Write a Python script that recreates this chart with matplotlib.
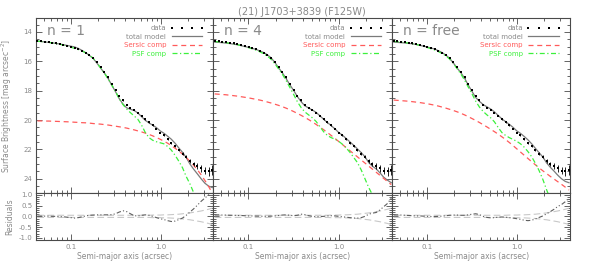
import numpy as np
import matplotlib
matplotlib.use("Agg")
import matplotlib.pyplot as plt
from matplotlib.ticker import FixedLocator, FixedFormatter, MultipleLocator, LogLocator, NullFormatter
from matplotlib.lines import Line2D

# ---------------- data ----------------
title = "(21) J1703+3839 (F125W)"
panel_labels = ["n = 1", "n = 4", "n = free"]

radius = [0.0425, 0.0468, 0.0514, 0.0566, 0.0622, 0.0685, 0.0753, 0.0828, 0.0911, 0.1002,
          0.1103, 0.1213, 0.1334, 0.1468, 0.1614, 0.1776, 0.1953, 0.2149, 0.2364, 0.2600,
          0.2860, 0.3146, 0.3461, 0.3807, 0.4188, 0.4607, 0.5067, 0.5574, 0.6131, 0.6745,
          0.7419, 0.8161, 0.8977, 0.9875, 1.0862, 1.1949, 1.3143, 1.4458, 1.5904, 1.7494,
          1.9244, 2.1168, 2.3285, 2.5613, 2.8175, 3.0992, 3.4091, 3.7500]

data_mu = [14.62, 14.64, 14.67, 14.70, 14.74, 14.78, 14.83, 14.89, 14.96, 15.03,
           15.10, 15.18, 15.28, 15.40, 15.55, 15.75, 16.05, 16.40, 16.72, 17.10,
           17.55, 17.95, 18.35, 18.65, 18.95, 19.15, 19.32, 19.50, 19.72, 19.95,
           20.15, 20.35, 20.58, 20.85, 21.05, 21.30, 21.55, 21.80, 22.05, 22.28,
           22.50, 22.80, 23.00, 23.15, 23.30, 23.45, 23.50, 23.42]

data_err = [0.01, 0.01, 0.01, 0.01, 0.01, 0.01, 0.01, 0.01, 0.01, 0.01,
            0.01, 0.01, 0.01, 0.01, 0.01, 0.01, 0.01, 0.01, 0.01, 0.01,
            0.01, 0.01, 0.02, 0.02, 0.02, 0.02, 0.02, 0.02, 0.02, 0.02,
            0.02, 0.03, 0.03, 0.03, 0.04, 0.05, 0.06, 0.07, 0.08, 0.10,
            0.12, 0.14, 0.16, 0.19, 0.22, 0.26, 0.30, 0.35]

sersic_n1 = [20.06, 20.06, 20.07, 20.07, 20.08, 20.09, 20.10, 20.11, 20.12, 20.13,
             20.15, 20.16, 20.18, 20.19, 20.21, 20.24, 20.26, 20.28, 20.31, 20.34,
             20.38, 20.42, 20.46, 20.50, 20.55, 20.61, 20.67, 20.74, 20.81, 20.89,
             20.98, 21.08, 21.19, 21.31, 21.44, 21.58, 21.74, 21.92, 22.11, 22.32,
             22.55, 22.81, 23.09, 23.39, 23.73, 24.11, 24.52, 24.97]
sersic_n4 = [18.22, 18.24, 18.26, 18.28, 18.31, 18.34, 18.37, 18.41, 18.45, 18.49,
             18.54, 18.59, 18.64, 18.70, 18.77, 18.84, 18.92, 19.00, 19.09, 19.19,
             19.30, 19.42, 19.55, 19.68, 19.82, 19.97, 20.13, 20.30, 20.48, 20.66,
             20.85, 21.05, 21.25, 21.46, 21.67, 21.88, 22.09, 22.30, 22.51, 22.72,
             22.93, 23.14, 23.35, 23.56, 23.77, 23.98, 24.19, 24.40]
sersic_free = [18.64, 18.66, 18.68, 18.70, 18.72, 18.75, 18.78, 18.81, 18.85, 18.89,
               18.94, 18.99, 19.05, 19.12, 19.19, 19.27, 19.35, 19.44, 19.54, 19.65,
               19.77, 19.90, 20.03, 20.17, 20.32, 20.47, 20.63, 20.79, 20.96, 21.14,
               21.33, 21.53, 21.74, 21.96, 22.18, 22.40, 22.62, 22.84, 23.05, 23.26,
               23.46, 23.65, 23.84, 24.02, 24.20, 24.38, 24.57, 24.77]

psf_n1 = [14.63, 14.65, 14.68, 14.71, 14.75, 14.79, 14.84, 14.90, 14.97, 15.04,
          15.12, 15.20, 15.30, 15.43, 15.58, 15.80, 16.10, 16.45, 16.80, 17.20,
          17.62, 18.05, 18.55, 18.95, 19.25, 19.50, 19.72, 19.95, 20.35, 20.85,
          21.20, 21.38, 21.48, 21.55, 21.62, 21.80, 22.05, 22.40, 22.80, 23.25,
          23.85, 24.35, 24.95, 25.50, 26.10, 26.70, 27.30, 27.90]
psf_n4 = [14.65, 14.67, 14.70, 14.73, 14.77, 14.81, 14.86, 14.92, 14.99, 15.07,
          15.15, 15.24, 15.35, 15.48, 15.64, 15.86, 16.16, 16.52, 16.88, 17.30,
          17.78, 18.25, 18.75, 19.15, 19.45, 19.65, 19.85, 20.10, 20.45, 20.80,
          21.05, 21.20, 21.30, 21.45, 21.65, 21.90, 22.20, 22.55, 22.90, 23.40,
          24.00, 24.60, 25.10, 25.60, 26.10, 26.60, 27.10, 27.60]
psf_free = [14.64, 14.66, 14.69, 14.72, 14.76, 14.80, 14.85, 14.91, 14.98, 15.06,
            15.14, 15.23, 15.34, 15.47, 15.63, 15.85, 16.15, 16.50, 16.86, 17.28,
            17.76, 18.22, 18.72, 19.12, 19.42, 19.65, 19.85, 20.12, 20.50, 20.85,
            21.05, 21.20, 21.32, 21.45, 21.62, 21.85, 22.15, 22.50, 22.95, 23.45,
            24.05, 24.75, 25.40, 26.00, 26.60, 27.20, 27.80, 28.40]

# residual = total model - data
resid_n1 = [0.00, 0.01, 0.01, 0.01, 0.00, 0.00, -0.01, -0.02, -0.04, -0.06,
            -0.08, -0.06, -0.02, 0.02, 0.05, 0.06, 0.07, 0.07, 0.07, 0.07,
            0.08, 0.12, 0.20, 0.26, 0.22, 0.12, 0.03, 0.02, 0.05, 0.07,
            0.05, 0.00, -0.06, -0.11, -0.15, -0.20, -0.24, -0.22, -0.15, -0.08,
            0.05, 0.20, 0.35, 0.52, 0.70, 0.85, 1.00, 1.18]
resid_n4 = [0.07, 0.07, 0.06, 0.06, 0.05, 0.05, 0.04, 0.04, 0.03, 0.02,
            0.02, 0.01, 0.01, 0.00, 0.00, 0.01, 0.02, 0.04, 0.06, 0.07,
            0.05, 0.03, 0.05, 0.10, 0.08, 0.03, 0.00, -0.02, -0.01, 0.00,
            0.02, 0.03, 0.02, 0.00, -0.02, -0.04, -0.06, -0.08, -0.08, -0.06,
            0.00, 0.10, 0.15, 0.18, 0.30, 0.45, 0.60, 0.85]
resid_free = [0.07, 0.07, 0.06, 0.05, 0.04, 0.03, 0.02, 0.02, 0.01, 0.00,
              -0.01, -0.01, 0.00, 0.01, 0.03, 0.05, 0.06, 0.06, 0.05, 0.05,
              0.07, 0.10, 0.12, 0.08, 0.00, -0.05, -0.07, -0.06, -0.04, -0.03,
              -0.04, -0.06, -0.08, -0.11, -0.14, -0.18, -0.20, -0.18, -0.12, -0.05,
              0.02, 0.12, 0.22, 0.33, 0.46, 0.55, 0.68, 0.85]

resid_band = [0.05, 0.05, 0.05, 0.05, 0.05, 0.05, 0.05, 0.05, 0.05, 0.05,
              0.05, 0.05, 0.05, 0.05, 0.05, 0.05, 0.05, 0.05, 0.05, 0.05,
              0.05, 0.05, 0.05, 0.05, 0.05, 0.05, 0.05, 0.05, 0.05, 0.05,
              0.05, 0.06, 0.06, 0.06, 0.07, 0.07, 0.08, 0.09, 0.10, 0.12,
              0.14, 0.16, 0.19, 0.22, 0.25, 0.29, 0.33, 0.38]

sersics = [sersic_n1, sersic_n4, sersic_free]
psfs = [psf_n1, psf_n4, psf_free]
resids = [resid_n1, resid_n4, resid_free]

xticks = [0.1, 1.0]
xticklabels = ["0.1", "1.0"]
yticks_main = [14, 16, 18, 20, 22, 24]
yticks_res = [-1.0, -0.5, 0.0, 0.5, 1.0]
yticklabels_res = ["-1.0", "-0.5", "0.0", "0.5", "1.0"]

# ---------------- style ----------------
TXT = "#8a8a8a"
AX = "#4a4a4a"
RED = "#ff5a5a"
GREEN = "#3cf03c"
MODEL = "#7a7a7a"

plt.rcParams['font.family'] = ['DejaVu Sans']
fig = plt.figure(figsize=(5.94, 2.77), dpi=100)
W, H = 594.0, 277.0

lefts = [36.0, 213.3, 392.3]
rights = [213.3, 392.3, 570.0]
top_px, mid_px, bot_px = 18.3, 192.7, 240.0

r = np.array(radius)
mu = np.array(data_mu)
err = np.array(data_err)
band = np.array(resid_band)

def style_axis(ax):
    for s in ax.spines.values():
        s.set_color(AX)
        s.set_linewidth(0.8)
    ax.set_xscale('log')
    ax.set_xlim(0.041, 3.85)
    ax.xaxis.set_major_locator(FixedLocator(xticks))
    ax.xaxis.set_minor_locator(LogLocator(base=10, subs=np.arange(2, 10)))
    ax.xaxis.set_minor_formatter(NullFormatter())
    ax.tick_params(which='both', direction='in', top=True, right=True,
                   color=AX, labelcolor=TXT, labelsize=5, width=0.6)
    ax.tick_params(which='major', length=4.5, pad=2.5)
    ax.tick_params(which='minor', length=2.2)

for i in range(3):
    x0 = lefts[i] / W
    w = (rights[i] - lefts[i]) / W
    axm = fig.add_axes([x0, 1 - mid_px / H, w, (mid_px - top_px) / H])
    axr = fig.add_axes([x0, 1 - bot_px / H, w, (bot_px - mid_px) / H])
    for ax in (axm, axr):
        style_axis(ax)

    model = mu + np.array(resids[i])

    # main panel
    axm.plot(r, model, color=MODEL, lw=0.9, zorder=2)
    axm.plot(r, sersics[i], color=RED, lw=0.9, dashes=(4, 3), zorder=3)
    axm.plot(r, psfs[i], color=GREEN, lw=0.9, dashes=(4, 2, 1, 2), zorder=3)
    axm.errorbar(r, mu, yerr=err, fmt='s', ms=2.1, mew=0, color='black', ecolor='black',
                 elinewidth=0.6, capsize=0, zorder=4)
    axm.set_ylim(24.95, 13.07)
    axm.yaxis.set_major_locator(FixedLocator(yticks_main))
    axm.yaxis.set_minor_locator(MultipleLocator(0.5))
    axm.tick_params(labelbottom=False)
    if i > 0:
        axm.tick_params(labelleft=False)

    axm.text(0.062, 0.925, panel_labels[i], transform=axm.transAxes, ha='left',
             va='center', fontsize=10, color=TXT)

    handles = [
        Line2D([], [], ls='none', marker='s', ms=1.8, mew=0, color='black'),
        Line2D([], [], color=MODEL, lw=0.9),
        Line2D([], [], color=RED, lw=0.9, dashes=(4, 3)),
        Line2D([], [], color=GREEN, lw=0.9, dashes=(4, 2, 1, 2)),
    ]
    leg = axm.legend(handles, ["data", "total model", "Sersic comp", "PSF comp"],
                     loc='upper right', bbox_to_anchor=(0.965, 0.975), frameon=False,
                     fontsize=5, markerfirst=False, numpoints=4, handlelength=5.0,
                     handletextpad=0.5, labelspacing=0.35, borderaxespad=0.0,
                     labelcolor=[TXT, TXT, RED, GREEN])

    # residual panel
    axr.plot(r, band, color="#c8c8c8", lw=0.8, dashes=(6, 3))
    axr.plot(r, -band, color="#c8c8c8", lw=0.8, dashes=(6, 3))
    axr.plot(r, resids[i], color="#5e5e5e", lw=0.8, dashes=(4, 2, 1, 2, 1, 2))
    axr.set_ylim(-1.1, 1.1)
    axr.yaxis.set_major_locator(FixedLocator(yticks_res))
    axr.yaxis.set_major_formatter(FixedFormatter(yticklabels_res))
    axr.yaxis.set_minor_locator(MultipleLocator(0.1))
    axr.xaxis.set_major_formatter(FixedFormatter(xticklabels))
    axr.tick_params(axis='x', pad=3)
    if i > 0:
        axr.tick_params(labelleft=False)
    axr.set_xlabel("Semi-major axis (acrsec)", fontsize=5.5, color=TXT, labelpad=1)

    if i == 0:
        axm.set_ylabel("Surface Brightness [mag arcsec$^{-2}$]", fontsize=5.5, color=TXT)
        axm.yaxis.set_label_coords(-0.125, 0.5)
        axr.set_ylabel("Residuals", fontsize=5.5, color=TXT)
        axr.yaxis.set_label_coords(-0.125, 0.5)

fig.text(302 / W, 1 - 12 / H, title, ha='center', va='center', fontsize=7, color=TXT)

fig.savefig("out.png", dpi=100)
